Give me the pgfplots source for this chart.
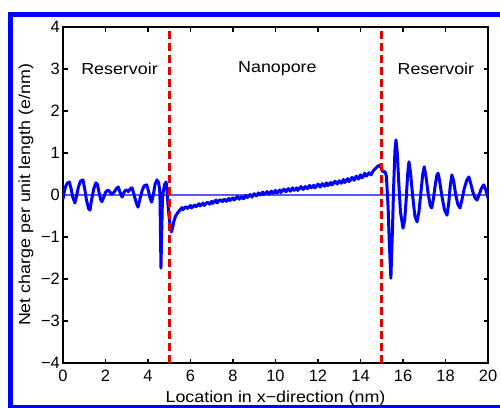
\documentclass[border=0pt]{standalone}
\usepackage{fontspec}
\setmainfont{Liberation Sans}
\newfontfamily\lblfont{Liberation Sans}[FakeStretch=1.12]
\usepackage{pgfplots}
\pgfplotsset{compat=1.18}
\definecolor{zeroblue}{rgb}{0.35,0.35,1}
\begin{document}
\begin{tikzpicture}
\path[use as bounding box] (-63bp,-45bp) rectangle (437bp,363bp);
\begin{axis}[
  scale only axis, width=425bp, height=336bp,
  xmin=0, xmax=20, ymin=-4, ymax=4,
  xtick={0,2,4,6,8,10,12,14,16,18,20},
  xticklabels={0,2,4,6,8,10,12,14,16,18,20},
  ytick={-4,-3,-2,-1,0,1,2,3,4},
  yticklabels={−4,−3,−2,−1,0,1,2,3,4},
  tick align=inside, major tick length=4.5bp,
  axis line style={line width=1.4bp},
  every tick/.style={black, line width=1.2bp},
  tick label style={font=\fontsize{16.5}{18}\selectfont},
  yticklabel style={inner xsep=3bp},
  xticklabel style={yshift=-4bp},
  label style={font=\lblfont\fontsize{16}{18}\selectfont},
  xlabel={Location in x−direction (nm)},
  ylabel={Net charge per unit length (e/nm)},
  xlabel style={at={(axis description cs:0.5,-0.119)}, anchor=base},
  ylabel style={at={(axis description cs:-0.0776,0.5)}, anchor=base},
]
\addplot[draw=zeroblue, line width=1.2bp] coordinates {(0,0) (20,0)};
\addplot[blue, line width=3bp, line join=round] coordinates {
(0.00,-0.10) (0.05,0.05) (0.12,0.20) (0.20,0.28) (0.30,0.31) (0.38,0.15) (0.46,-0.05) (0.56,-0.19)
(0.64,-0.02) (0.72,0.18) (0.82,0.33) (0.94,0.36) (1.02,0.15) (1.10,-0.10) (1.20,-0.32) (1.27,-0.36)
(1.35,-0.10) (1.45,0.15) (1.55,0.29) (1.62,0.25) (1.70,0.05) (1.78,-0.12) (1.83,-0.16) (1.92,-0.05)
(2.02,0.08) (2.12,0.12) (2.20,0.08) (2.28,0.02) (2.37,0.05) (2.45,0.10) (2.52,0.16) (2.60,0.19)
(2.66,0.10) (2.72,0.02) (2.78,-0.05) (2.85,0.04) (2.92,0.10) (3.00,0.12) (3.08,0.08) (3.15,0.14)
(3.25,0.17) (3.32,0.05) (3.40,-0.10) (3.47,-0.22) (3.53,-0.29) (3.62,-0.10) (3.72,0.10) (3.82,0.22)
(3.94,0.24) (4.02,0.10) (4.10,-0.08) (4.17,-0.17) (4.25,0.00) (4.33,0.25) (4.42,0.36) (4.50,0.30)
(4.56,0.07) (4.59,-1.0) (4.61,-1.74) (4.64,-1.0) (4.68,-0.1) (4.71,0.05) (4.78,0.25) (4.85,0.31)
(4.90,0.10) (4.94,-0.24) (5.00,-0.55) (5.06,-0.80) (5.10,-0.88) (5.15,-0.80) (5.22,-0.62) (5.30,-0.50)
(5.40,-0.42) (5.50,-0.36)
(5.6,-0.30) (5.65,-0.35) (5.7,-0.31) (5.8,-0.28) (5.85,-0.32) (5.9,-0.30) (6.0,-0.25) (6.05,-0.31) (6.1,-0.28) (6.2,-0.24) (6.25,-0.28) (6.3,-0.26)
(6.4,-0.21) (6.45,-0.26) (6.5,-0.24) (6.6,-0.19) (6.65,-0.25) (6.7,-0.22) (6.8,-0.17) (6.9,-0.22) (7.0,-0.15) (7.05,-0.20) (7.1,-0.17)
(7.2,-0.12) (7.25,-0.19) (7.3,-0.16) (7.4,-0.11) (7.5,-0.16) (7.55,-0.12) (7.6,-0.10) (7.7,-0.15) (7.8,-0.08) (7.85,-0.13) (7.9,-0.11)
(8.0,-0.07) (8.05,-0.12) (8.1,-0.10) (8.2,-0.04) (8.3,-0.10) (8.35,-0.06) (8.4,-0.04) (8.5,-0.09) (8.6,-0.01) (8.65,-0.06) (8.7,-0.05)
(8.8,0.01) (8.9,-0.05) (8.95,0.00) (9.0,0.03) (9.1,-0.02) (9.2,0.05) (9.25,0.00) (9.3,0.01) (9.4,0.07) (9.45,0.01) (9.5,0.03)
(9.6,0.08) (9.7,0.02) (9.75,0.06) (9.8,0.09) (9.9,0.04) (10.0,0.11) (10.05,0.05) (10.1,0.06) (10.2,0.12) (10.25,0.06) (10.3,0.08)
(10.4,0.14) (10.5,0.08) (10.55,0.12) (10.6,0.15) (10.7,0.09) (10.8,0.17) (10.85,0.11) (10.9,0.12) (11.0,0.17) (11.05,0.11) (11.1,0.14)
(11.2,0.20) (11.3,0.13) (11.35,0.17) (11.4,0.20) (11.5,0.15) (11.6,0.23) (11.65,0.17) (11.7,0.18) (11.8,0.23) (11.85,0.17) (11.9,0.19)
(12.0,0.26) (12.1,0.19) (12.15,0.23) (12.2,0.27) (12.3,0.21) (12.4,0.29) (12.45,0.22) (12.5,0.24) (12.6,0.30) (12.65,0.24) (12.7,0.26)
(12.8,0.33) (12.9,0.26) (12.95,0.30) (13.0,0.34) (13.1,0.28) (13.2,0.37) (13.25,0.30) (13.3,0.32) (13.4,0.39) (13.45,0.32) (13.5,0.34)
(13.6,0.42) (13.7,0.35) (13.75,0.40) (13.8,0.45) (13.9,0.38) (14.0,0.48) (14.05,0.41) (14.1,0.42) (14.2,0.52) (14.25,0.45) (14.3,0.46)
(14.4,0.53) (14.5,0.48) (14.6,0.58) (14.7,0.63) (14.8,0.68) (14.9,0.71) (15.0,0.62) (15.05,0.55)
(15.15,0.56) (15.22,0.45) (15.30,-0.3) (15.36,-1.2) (15.43,-1.98) (15.50,-0.9) (15.56,0.2) (15.62,1.05)
(15.67,1.31) (15.73,1.0) (15.80,0.3) (15.88,-0.4) (16.0,-0.79) (16.08,-0.6) (16.15,-0.1) (16.22,0.5)
(16.28,0.79) (16.35,0.55) (16.45,0.0) (16.56,-0.5) (16.66,-0.64) (16.75,-0.4) (16.85,0.1) (16.93,0.5)
(17.0,0.67) (17.08,0.45) (17.18,0.05) (17.28,-0.25) (17.35,-0.31) (17.43,-0.1) (17.52,0.25) (17.60,0.48)
(17.65,0.52) (17.72,0.35) (17.82,0.0) (17.95,-0.35) (18.07,-0.48) (18.15,-0.2) (18.22,0.2) (18.30,0.48)
(18.38,0.35) (18.48,0.0) (18.58,-0.22) (18.68,-0.31) (18.78,-0.1) (18.88,0.15) (19.0,0.35) (19.1,0.43)
(19.2,0.25) (19.3,0.05) (19.4,-0.08) (19.48,-0.12) (19.58,0.0) (19.68,0.15) (19.8,0.24) (19.9,0.12)
(20.0,-0.07)
};
\addplot[red!90!black, line width=2.6bp, dash pattern=on 8bp off 4bp] coordinates {(5,-4) (5,4)};
\addplot[red!90!black, line width=2.6bp, dash pattern=on 8bp off 4bp] coordinates {(15,-4) (15,4)};
\node[font=\lblfont\fontsize{16}{18}\selectfont] at (axis cs:2.66,3) {Reservoir};
\node[font=\lblfont\fontsize{16}{18}\selectfont] at (axis cs:10.09,3) {Nanopore};
\node[font=\lblfont\fontsize{16}{18}\selectfont] at (axis cs:17.55,3) {Reservoir};
\end{axis}
\draw[blue, line width=4.5bp] (-52.5bp,-44bp) rectangle (470bp,348.5bp);
\end{tikzpicture}
\end{document}
